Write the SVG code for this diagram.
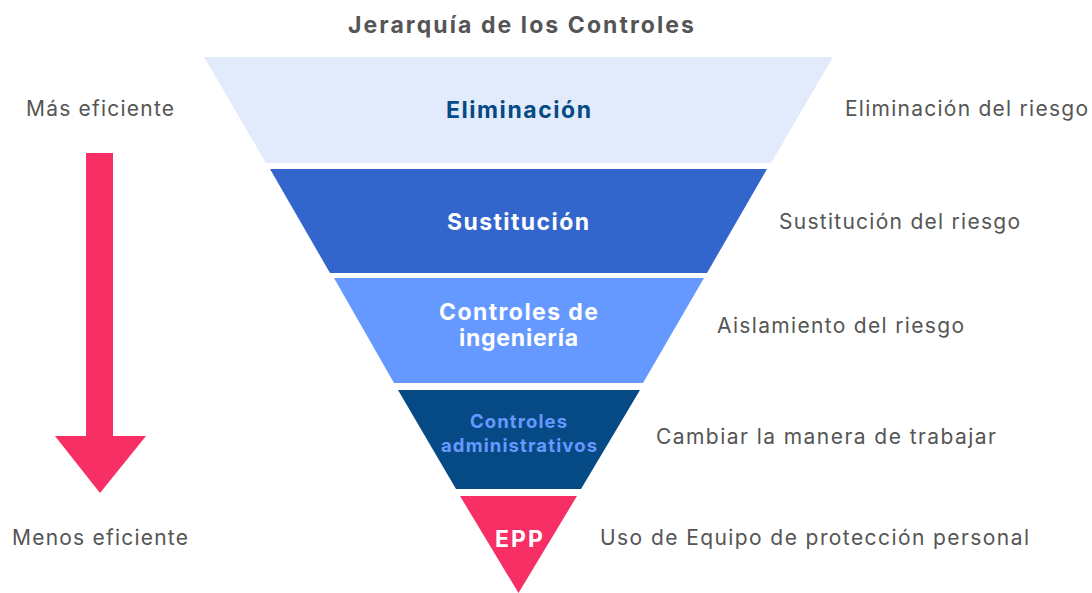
<svg xmlns="http://www.w3.org/2000/svg" width="1092" height="593" viewBox="0 0 1092 593">
<style>
.t{font-family:Inter,"Noto Sans","Liberation Sans",sans-serif}
.side{font-size:21px;fill:#555555}
.band{font-weight:bold;text-anchor:middle}
</style>
<rect width="1092" height="593" fill="#ffffff"/>
<text class="t" x="521" y="33" text-anchor="middle" font-size="23" font-weight="bold" fill="#555555" textLength="346">Jerarquía de los Controles</text>
<g id="band-eliminacion">
<polygon points="204,57 833,57 771,163 266,163" fill="#E1EBFC"/>
<text class="t band" x="518.5" y="118" font-size="23" fill="#064A85" textLength="145">Eliminación</text>
</g>
<g id="band-sustitucion">
<polygon points="270,169 767,169 707,273 330,273" fill="#3366CC"/>
<text class="t band" x="518" y="230" font-size="23" fill="#ffffff" textLength="142">Sustitución</text>
</g>
<g id="band-ingenieria">
<polygon points="334,278 704,278 643,383 394,383" fill="#6699FF"/>
<text class="t band" x="518.5" y="320" font-size="23" fill="#ffffff" textLength="159">Controles de</text>
<text class="t band" x="518.5" y="346" font-size="23" fill="#ffffff" textLength="119">ingeniería</text>
</g>
<g id="band-administrativos">
<polygon points="398,390 640,390 581,489 456,489" fill="#064A85"/>
<text class="t band" x="518.5" y="428" font-size="18.5" fill="#6699FF" textLength="97">Controles</text>
<text class="t band" x="519" y="452" font-size="18.5" fill="#6699FF" textLength="156">administrativos</text>
</g>
<g id="band-epp">
<polygon points="460,496 577,496 518.5,593" fill="#F72F64"/>
<text class="t band" x="519" y="547" font-size="23" fill="#ffffff" textLength="48">EPP</text>
</g>
<g id="labels-right">
<text class="t side" x="845" y="116" textLength="243">Eliminación del riesgo</text>
<text class="t side" x="779" y="229" textLength="241">Sustitución del riesgo</text>
<text class="t side" x="717" y="333" textLength="247">Aislamiento del riesgo</text>
<text class="t side" x="656" y="444" textLength="340">Cambiar la manera de trabajar</text>
<text class="t side" x="600" y="545" textLength="429">Uso de Equipo de protección personal</text>
</g>
<g id="efficiency">
<text class="t side" x="26" y="116" textLength="148">Más eficiente</text>
<text class="t side" x="12" y="545" textLength="176">Menos eficiente</text>
</g>
<g id="connectors">
<polygon points="86,153 113,153 113,436 146,436 100,493 55,436 86,436" fill="#F72F64"/>
</g>
</svg>
